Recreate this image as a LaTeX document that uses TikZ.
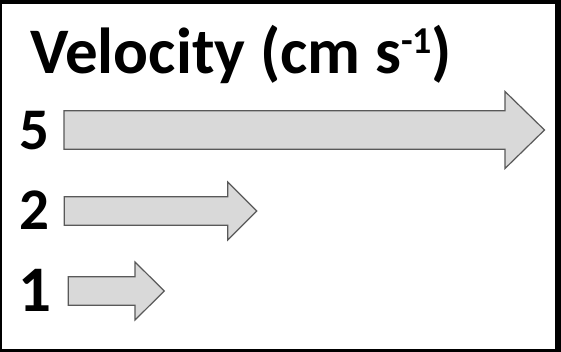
\documentclass[tikz,border=0pt]{standalone}
\usepackage{fontspec}
\setmainfont{Carlito}
\begin{document}
\begin{tikzpicture}[x=1pt,y=-1pt,
	every node/.style={inner sep=0pt,font=\bfseries},
	velarrow/.style={draw=black!65,fill=black!15,line width=1.2pt,line join=miter}]

	\useasboundingbox (0,0) rectangle (561,352);
	\fill[black] (0,0) rectangle (561,352);
	\fill[white] (2,4) rectangle (555,349);

	\node[anchor=base west,font=\bfseries\fontsize{65}{65}\selectfont] (title) at (30,73.5)
		{Velocity (cm s\raisebox{19.5pt}{\fontsize{38}{38}\selectfont -1})};

	% left end / centre / shaft half / head base / head half / tip
	\foreach \lx/\cy/\sh/\hb/\hh/\tx in {64/130/19.3/505/38.5/544.5, 64.3/211/14.2/227.7/29/256.7, 68.3/291/14.2/135/29/164.3} {
		\draw[velarrow] (\lx,\cy-\sh) -- (\hb,\cy-\sh) -- (\hb,\cy-\hh) -- (\tx,\cy)
			-- (\hb,\cy+\hh) -- (\hb,\cy+\sh) -- (\lx,\cy+\sh) -- cycle;
	}

	\node[anchor=base,font=\bfseries\fontsize{59}{59}\selectfont] (five) at (34.5,150) {5};
	\node[anchor=base,font=\bfseries\fontsize{59}{59}\selectfont] (two) at (34.5,230) {2};
	\node[anchor=base,font=\bfseries\fontsize{65}{65}\selectfont] (one) at (34.7,311.5) {1};

\end{tikzpicture}
\end{document}
